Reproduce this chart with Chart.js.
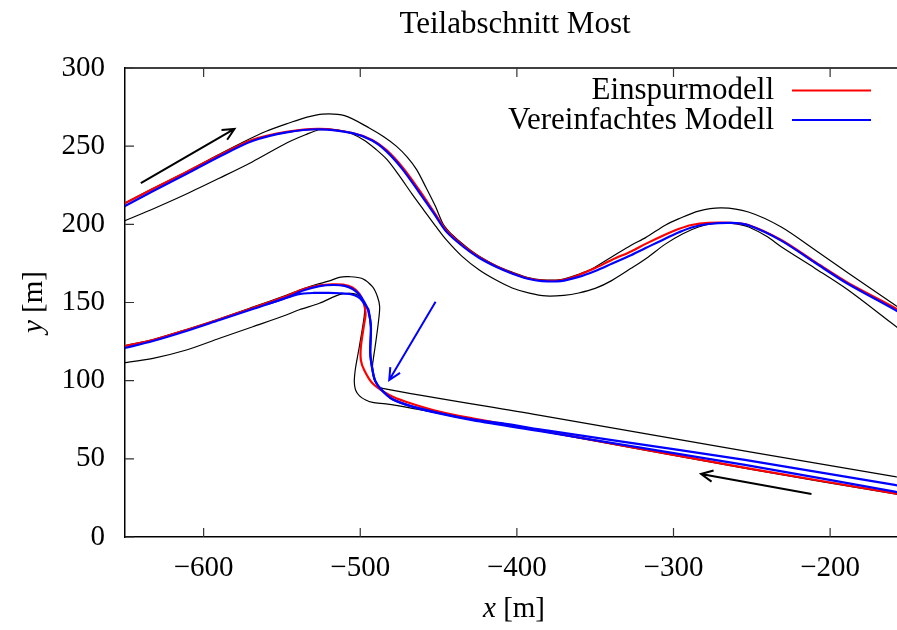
<!DOCTYPE html>
<html>
<head>
<meta charset="utf-8">
<script src="https://cdn.jsdelivr.net/npm/chart.js@4.4.1/dist/chart.umd.min.js"></script>
<style>
  body { margin: 0; background: #fff; }
  canvas { display: block; }
</style>
</head>
<body>
<canvas id="mostChart" width="897" height="630"></canvas>
<script>
// Streckenbegrenzungen und Trajektorien, [x, y] in m
const randAussen1 = [[-660,208.8],[-653.5,212],[-632.5,222.9],[-610.8,233.8],[-590,244.8],[-575,252.5],[-560,259.5],[-545,265],[-535,268.3],[-524,270.5],[-510,269.5],[-494,261.5],[-485,256],[-477,250],[-470,243],[-464,235],[-458,223.5],[-452,211.5],[-447,200],[-443,195],[-437,189.5],[-430,183.7],[-424,179.6],[-413,173.5],[-403,169.4],[-393,166],[-384,164.5],[-372,164.7],[-360.5,168.1],[-352,171.5],[-339.5,179.1],[-326.8,186.8],[-317.8,191.5],[-305,199.6],[-296.8,203.5],[-284,208.5],[-269.4,210.5],[-252.2,207.9],[-231.2,198.3],[-209.6,183.6],[-188.5,168.9],[-158.6,148.4],[-140,136]];
const randInnen1 = [[-660,197.8],[-653.5,200.9],[-632,210],[-611,219.4],[-590,229.5],[-569,239.9],[-547,252],[-535,257.3],[-526,260.5],[-515,260.5],[-505,257.8],[-497,253.5],[-490,248],[-483,241.5],[-475,231],[-467,219.5],[-459,208.5],[-452,199],[-445,190],[-435,179.5],[-424,170.8],[-413,164.2],[-403,159.3],[-392,156],[-381.5,154.2],[-370,154.6],[-360.5,156.1],[-350,159],[-339.5,164],[-326.8,172],[-317,178.5],[-305,187.5],[-294,194],[-284,198.3],[-275,200.4],[-267,200.7],[-260,200.3],[-252,198.3],[-240,192],[-231,185.5],[-210,172.1],[-188.5,158],[-161,137],[-140,121]];
const randAussen2 = [[-140,35.3],[-158.6,38.6],[-252.2,54.6],[-386,78],[-485.8,95.1],[-489.5,97.8],[-491.3,101.4],[-492.2,108.9],[-491.5,115],[-490.5,121.7],[-488.5,136.7],[-487.6,147.3],[-489,153.7],[-492.2,160.1],[-498.5,165.2],[-507,166.5],[-513.4,166.1],[-519.7,163.8],[-528.2,161.5],[-537,158.6],[-547.3,154.6],[-568.6,147],[-589.8,139.6],[-611,132.7],[-632.3,126.3],[-653.5,121.6],[-660,119.6]];
const randInnen2 = [[-140,24],[-158.6,27.5],[-252.2,43.5],[-386,68],[-428.5,75.4],[-466.7,82.3],[-483.6,85.1],[-492.2,86.1],[-496.5,87.6],[-500.5,90.3],[-503,94],[-503.8,99.3],[-503.2,106.8],[-502,114],[-500.6,121.7],[-497.5,140.9],[-497.2,147.5],[-498.8,152.5],[-502.5,155.2],[-507,155.8],[-513.4,155],[-526.1,149.5],[-538.9,145.4],[-547.3,142],[-568.6,134.5],[-589.8,127.1],[-611,119.6],[-632.3,114.3],[-653.5,111],[-660,110]];

const einspur1 = [[-660,208.5],[-653.5,211.7],[-632.5,222.6],[-610.8,233.5],[-589.8,244.4],[-568.8,254],[-547,259.1],[-526,261],[-505,258.4],[-492.4,254],[-483.4,247.6],[-473.2,236.7],[-462.4,222],[-453,208],[-445.2,196.4],[-434,186],[-424.2,179.1],[-413,173],[-403.2,168.9],[-393,165.5],[-384,164],[-372,164.2],[-360.5,167.6],[-350,172],[-339.5,177.2],[-326.8,182.8],[-317.8,187.5],[-305.1,193.5],[-296.8,197],[-288.5,199.6],[-277.7,200.9],[-263.1,200.9],[-252.2,199.6],[-231.2,190],[-209.6,175.9],[-188.5,162.5],[-158.6,146.5],[-140,134.5]];
const einspur2 = [[-140,24.5],[-158.6,27.9],[-252.2,43.9],[-386,68.4],[-428.5,75.9],[-449.7,80.2],[-470.9,86.5],[-481.5,90.8],[-492.2,98.3],[-497.5,106.8],[-499.6,113.2],[-499.6,121.7],[-497.8,134.5],[-496.6,143],[-497.8,149.5],[-500.5,155.5],[-505,159.6],[-511,161.4],[-518,161.6],[-526,160.9],[-536,158.6],[-547.3,154],[-568.6,146.5],[-589.8,139.3],[-611,132.4],[-632.3,126],[-653.5,121.3],[-660,119.3]];

const vereinfacht1 = [[-660,206.8],[-653.5,210],[-632.5,221.2],[-610.8,232.3],[-589.8,243.4],[-568.8,253.3],[-547,258.8],[-526,260.8],[-505,258.3],[-492.4,253.6],[-483.4,246.8],[-473.2,235.5],[-462.4,220.5],[-453,207],[-445.2,195.5],[-434,185.5],[-424.2,178.6],[-413,172.7],[-403.2,168.6],[-393,165.2],[-384,163.7],[-372,163.7],[-360.5,166.4],[-350,170.2],[-339.5,174.8],[-326.8,180.4],[-317.8,184.8],[-305.1,191],[-296.8,194.8],[-288.5,198],[-277.7,200.2],[-263.1,200.9],[-252.2,199.4],[-231.2,189.6],[-209.6,175.4],[-188.5,161.8],[-158.6,145.3],[-140,134]];
const vereinfacht2 = [[-140,25.5],[-158.8,29],[-254.4,46.1],[-386,67.8],[-428.5,74.8],[-449.7,79.1],[-466.7,83.4],[-479.4,88.1],[-486.8,94.5],[-490.5,100],[-492.2,106.8],[-493.6,117.5],[-493.2,134.5],[-495,145.2],[-497.5,150.5],[-500.5,155],[-504.9,158.6],[-510,160.6],[-517,161.2],[-526,160.5],[-536,157.8],[-547.3,153],[-568.6,145.8],[-589.8,138.8],[-611,131.8],[-632.3,125.4],[-653.5,120.1],[-660,118.3]];
const vereinfacht3 = [[-140,30.3],[-158.8,33.3],[-254.4,49.3],[-339.3,62],[-380,68],[-410,72.8],[-428.5,75.2],[-449.7,79.3],[-466.7,83.4],[-479.4,88.1],[-486.8,94.5],[-490.5,100],[-492.2,106.8],[-493.6,117.5],[-493.2,134.5],[-494.7,145.2],[-495.5,146.5],[-498.5,150.8],[-501.5,153.6],[-506,155.3],[-513,155.9],[-520,156.1],[-530,156.1],[-540,155.2],[-550,152],[-560,148.7]];

// Fahrtrichtungspfeile: Start, Spitze
const pfeilStart = [[-640.1,226.4],[-211.9,27.5],[-451.9,150.5]];
const pfeilEnde = [[-580.3,261],[-282.4,40.3],[-481.5,100.4]];
const pfeilFarben = ["#000", "#000", "#0000ff"];

// Achsenteilung
const xTickWerte = [-600, -500, -400, -300, -200];
const yTickWerte = [0, 50, 100, 150, 200, 250, 300];

const legendeText = ["Einspurmodell", "Vereinfachtes Modell"];

const SERIF = "'Liberation Serif', 'DejaVu Serif', serif";
const FS = 29;
const FS_TEXT = 31;

const toXY = (arr) => arr.map(([x, y]) => ({ x, y }));
const minus = (v) => (v < 0 ? "\u2212" + Math.abs(v) : String(v));

function linie(data, color, width, order, label) {
  return {
    label: label || "",
    data: toXY(data),
    showLine: true,
    borderColor: color,
    borderWidth: width,
    pointRadius: 0,
    tension: 0.3,
    fill: false,
    order: order,
  };
}

function teile(ctx, parts, x, y) {
  let w = 0;
  parts.forEach((p) => { ctx.font = p[1]; w += ctx.measureText(p[0]).width; });
  let cx = x - w / 2;
  parts.forEach((p) => {
    ctx.font = p[1];
    ctx.fillText(p[0], cx, y);
    cx += ctx.measureText(p[0]).width;
  });
}

const deko = {
  id: "deko",
  afterDatasetsDraw(chart) {
    const { ctx, chartArea: a, scales: { x, y } } = chart;
    ctx.save();
    // Pfeile
    pfeilStart.forEach((s, i) => {
      const x0 = x.getPixelForValue(s[0]), y0 = y.getPixelForValue(s[1]);
      const x1 = x.getPixelForValue(pfeilEnde[i][0]), y1 = y.getPixelForValue(pfeilEnde[i][1]);
      const ang = Math.atan2(y1 - y0, x1 - x0);
      ctx.strokeStyle = pfeilFarben[i];
      ctx.lineWidth = 2;
      ctx.beginPath();
      ctx.moveTo(x0, y0);
      ctx.lineTo(x1, y1);
      ctx.moveTo(x1 - 13 * Math.cos(ang - 0.45), y1 - 13 * Math.sin(ang - 0.45));
      ctx.lineTo(x1, y1);
      ctx.lineTo(x1 - 13 * Math.cos(ang + 0.45), y1 - 13 * Math.sin(ang + 0.45));
      ctx.stroke();
    });
    // Rahmen oben + Ticks nach innen
    ctx.strokeStyle = "#000";
    ctx.lineWidth = 1.5;
    ctx.beginPath();
    ctx.moveTo(a.left, a.top);
    ctx.lineTo(a.right, a.top);
    ctx.stroke();
    ctx.lineWidth = 1.2;
    ctx.strokeStyle = "#333";
    ctx.beginPath();
    x.ticks.forEach((t) => {
      const px = x.getPixelForValue(t.value);
      ctx.moveTo(px, a.bottom); ctx.lineTo(px, a.bottom - 9);
      ctx.moveTo(px, a.top); ctx.lineTo(px, a.top + 9);
    });
    y.ticks.forEach((t) => {
      const py = y.getPixelForValue(t.value);
      ctx.moveTo(a.left, py); ctx.lineTo(a.left + 9, py);
    });
    ctx.stroke();
    // Legende
    const farben = ["#ff0000", "#0000ff"];
    ctx.textAlign = "right";
    ctx.textBaseline = "alphabetic";
    ctx.fillStyle = "#000";
    ctx.font = FS_TEXT + "px " + SERIF;
    legendeText.forEach((t, i) => {
      const ly = 90.5 + i * 29.5;
      ctx.fillText(t, 774, ly + 8.5);
      ctx.strokeStyle = farben[i];
      ctx.lineWidth = 2;
      ctx.beginPath();
      ctx.moveTo(792, ly);
      ctx.lineTo(871, ly);
      ctx.stroke();
    });
    // Titel und Achsenbeschriftungen
    ctx.textAlign = "center";
    ctx.fillText("Teilabschnitt Most", 515, 33);
    ctx.textAlign = "left";
    teile(ctx, [["x", "italic " + FS + "px " + SERIF], [" [m]", FS + "px " + SERIF]], 514, 617);
    ctx.translate(42, 302);
    ctx.rotate(-Math.PI / 2);
    teile(ctx, [["y", "italic " + FS + "px " + SERIF], [" [m]", FS + "px " + SERIF]], 0, 0);
    ctx.restore();
  },
};

const ctx = document.getElementById("mostChart").getContext("2d");
new Chart(ctx, {
  type: "scatter",
  data: {
    datasets: [
      linie(randAussen1, "#000", 1.2, 3),
      linie(randInnen1, "#000", 1.2, 3),
      linie(randAussen2, "#000", 1.2, 3),
      linie(randInnen2, "#000", 1.2, 3),
      linie(einspur1, "#ff0000", 2.2, 2, legendeText[0]),
      linie(einspur2, "#ff0000", 2.2, 2, legendeText[0]),
      linie(vereinfacht1, "#0000ff", 2.2, 1, legendeText[1]),
      linie(vereinfacht2, "#0000ff", 2.2, 1, legendeText[1]),
      linie(vereinfacht3, "#0000ff", 2.2, 1, legendeText[1]),
    ],
  },
  options: {
    responsive: false,
    animation: false,
    layout: { padding: { top: 68, left: 0, right: 0, bottom: 0 } },
    plugins: {
      legend: { display: false },
      tooltip: { enabled: false },
      title: { display: false },
    },
    scales: {
      x: {
        type: "linear",
        min: -650.2,
        max: -157.3,
        afterFit(s) { s.height = 93; },
        afterBuildTicks(s) { s.ticks = xTickWerte.map((v) => ({ value: v })); },
        grid: { drawOnChartArea: false, drawTicks: false },
        border: { display: true, color: "#000", width: 1.5 },
        ticks: {
          autoSkip: false,
          padding: 14,
          maxRotation: 0,
          color: "#000",
          font: { family: SERIF, size: FS },
          callback: (v) => minus(v),
        },
      },
      y: {
        type: "linear",
        min: 0,
        max: 300,
        afterFit(s) { s.width = 125; },
        afterBuildTicks(s) { s.ticks = yTickWerte.map((v) => ({ value: v })); },
        grid: { drawOnChartArea: false, drawTicks: false },
        border: { display: true, color: "#000", width: 1.5 },
        ticks: {
          autoSkip: false,
          padding: 20,
          color: "#000",
          font: { family: SERIF, size: FS },
          callback: (v) => minus(v),
        },
      },
    },
  },
  plugins: [deko],
});
</script>
</body>
</html>
